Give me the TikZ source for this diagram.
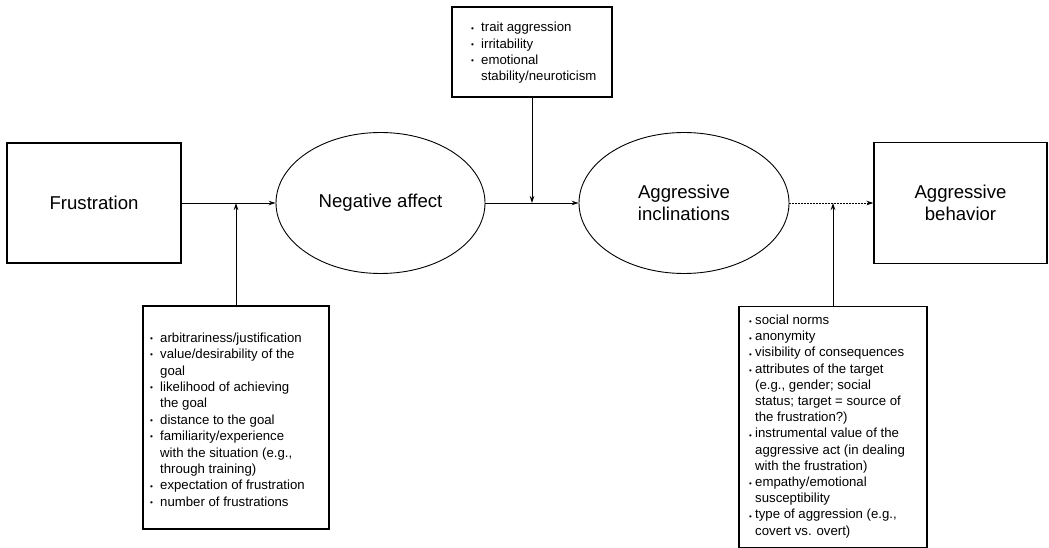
\documentclass[tikz,border=0pt]{standalone}
\usepackage{fontspec}
\setmainfont{Liberation Sans}
\usetikzlibrary{arrows.meta,shapes.geometric}
\newcommand{\bul}{\raisebox{0.06em}{\scalebox{0.62}{\textbullet}}}
\newcommand{\lowdot}{\raisebox{-0.04em}{\scalebox{0.6}{\textbullet}}}
\newcommand{\bi}{\makebox[10pt][l]{\bul}}
\newcommand{\bc}{\hspace*{10pt}}
\newcommand{\ri}{\makebox[6pt][l]{\lowdot}}
\newcommand{\rc}{\hspace*{6pt}}
\begin{document}
\begin{tikzpicture}[x=1pt,y=-1pt,
  box/.style={draw, line width=1.1pt, inner sep=0pt},
  oval/.style={draw, ellipse, line width=0.9pt, inner sep=0pt},
  big/.style={font=\fontsize{18.6}{22}\selectfont, align=center},
  small/.style={font=\fontsize{13.2}{16.2}\selectfont, inner sep=0pt, anchor=west, align=left},
  arr/.style={-{Stealth[length=7pt,width=4.5pt]}, line width=0.8pt},
  dotarr/.style={arr, line width=0.9pt, dash pattern=on 1.5pt off 1.5pt}]
\useasboundingbox (0,0) rectangle (1049,548);

\node[box, minimum width=174pt, minimum height=120pt, big] (frus) at (94,203) {Frustration};
\node[oval, minimum width=209pt, minimum height=141pt, big] (neg) at (380.5,203) {Negative affect};
\node[oval, minimum width=210pt, minimum height=141pt, big] (inc) at (684,203) {Aggressive\\inclinations};
\node[box, minimum width=173pt, minimum height=121pt, big] (beh) at (960.5,203) {Aggressive\\behavior};

\node[box, minimum width=160pt, minimum height=90pt] (top) at (532,52) {};
\node[small] (toptxt) at (471,53) {\begin{tabular}{@{}l@{}}
\bi trait aggression\\
\bi irritability\\
\bi emotional\\
\bc stability/neuroticism
\end{tabular}};

\node[box, minimum width=186pt, minimum height=223pt] (lbox) at (236,417.5) {};
\node[small, font=\fontsize{13.2}{16.4}\selectfont] (ltxt) at (150,421) {\begin{tabular}{@{}l@{}}
\bi arbitrariness/justification\\
\bi value/desirability of the\\
\bc goal\\
\bi likelihood of achieving\\
\bc the goal\\
\bi distance to the goal\\
\bi familiarity/experience\\
\bc with the situation (e.g.,\\
\bc through training)\\
\bi expectation of frustration\\
\bi number of frustrations
\end{tabular}};

\node[box, minimum width=188pt, minimum height=241pt] (rbox) at (833,427) {};
\node[small] (rtxt) at (749,426.5) {\begin{tabular}{@{}l@{}}
\ri social norms\\
\ri anonymity\\
\ri visibility of consequences\\
\ri attributes of the target\\
\rc (e.g., gender; social\\
\rc status; target = source of\\
\rc the frustration?)\\
\ri instrumental value of the\\
\rc aggressive act (in dealing\\
\rc with the frustration)\\
\ri empathy/emotional\\
\rc susceptibility\\
\ri type of aggression (e.g.,\\
\rc covert vs. overt)
\end{tabular}};

\draw[arr] (frus.east) -- (neg.west);
\draw[arr] (neg.east) -- (inc.west);
\draw[dotarr] (inc.east) -- (beh.west);
\draw[arr] (top.south) -- (top.south |- neg.east);
\draw[arr] (lbox.north) -- (lbox.north |- frus.east);
\draw[arr] (rbox.north) -- (rbox.north |- inc.east);
\end{tikzpicture}
\end{document}
